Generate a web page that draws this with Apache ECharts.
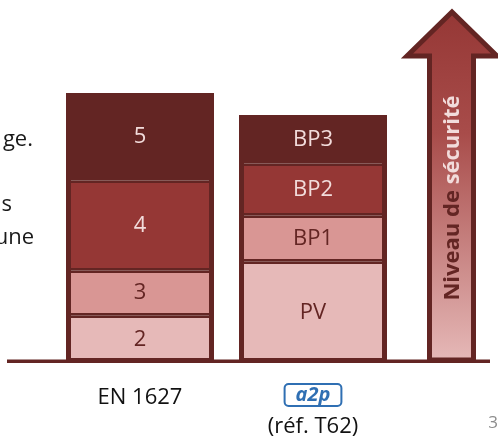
<!DOCTYPE html>
<html>
<head>
<meta charset="utf-8">
<script src="https://cdn.jsdelivr.net/npm/echarts@6/dist/echarts.min.js"></script>
<style>
  html, body { margin: 0; padding: 0; background: #fff; }
  #chart { width: 498px; height: 439px; }
</style>
</head>
<body>
<div id="chart"></div>
<script>
// two stacks: EN 1627 grades and a2p levels (heights, arbitrary units)
const categories = ['EN 1627', 'a2p']
const level1 = [9.5, 20.3]
const level2 = [9, 9.2]
const level3 = [18, 10.4]
const level4 = [17.5, 9.7]
const level1Names = ['2', 'PV']
const level2Names = ['3', 'BP1']
const level3Names = ['4', 'BP2']
const level4Names = ['5', 'BP3']

const dark = '#632523'
const light = '#f2dcdb'
const font = 'Open Sans'

const totals = categories.map((c, i) => level1[i] + level2[i] + level3[i] + level4[i])

const segment = (values, names, color, labelColor) => ({
  type: 'bar',
  stack: 'levels',
  barWidth: 148,
  barGap: '-100%',
  silent: true,
  data: values.map((v, i) => ({ value: v, name: names[i] })),
  itemStyle: { color: color, borderColor: dark, borderWidth: 2.5 },
  label: {
    show: true,
    position: 'inside',
    formatter: (p) => p.name,
    color: labelColor,
    fontFamily: font,
    fontSize: 22
  },
  emphasis: { disabled: true }
})

const chart = echarts.init(document.getElementById('chart'))

const option = {
  animation: false,
  grid: { left: 53.5, right: 98.5, top: 63, bottom: 76 },
  xAxis: {
    type: 'category',
    data: categories,
    axisLine: { show: false },
    axisTick: { show: false },
    axisLabel: {
      margin: 21,
      interval: 0,
      formatter: (val) => val === 'a2p' ? '{logo|a2p}\n{ref|(réf. T62)}' : '{en|' + val + '}',
      rich: {
        en: { fontFamily: font, fontSize: 22, color: '#111', lineHeight: 28 },
        logo: {
          fontFamily: font, fontSize: 20, fontStyle: 'italic', fontWeight: 'bold',
          color: '#2f6fb3', borderColor: '#2f6fb3', borderWidth: 2, borderRadius: 4,
          padding: [1, 11], lineHeight: 22
        },
        ref: { fontFamily: font, fontSize: 22, color: '#111', lineHeight: 42 }
      }
    }
  },
  yAxis: { type: 'value', min: 0, max: 60, show: false },
  series: [
    segment(level1, level1Names, '#e6b9b8', dark),
    segment(level2, level2Names, '#d99694', dark),
    segment(level3, level3Names, '#953735', light),
    segment(level4, level4Names, dark, light),
    {
      // outer frame of each stack
      type: 'bar',
      barWidth: 148,
      barGap: '-100%',
      silent: true,
      z: 3,
      data: totals,
      itemStyle: { color: 'rgba(0,0,0,0)', borderColor: dark, borderWidth: 5, borderRadius: [3, 3, 0, 0] },
      emphasis: { disabled: true }
    }
  ],
  graphic: [
    {
      type: 'line',
      z: 0,
      shape: { x1: 7, y1: 361.3, x2: 490, y2: 361.3 },
      style: { stroke: dark, lineWidth: 3.5 }
    },
    {
      type: 'polygon',
      z: 5,
      shape: {
        points: [[452, 12], [497, 56], [473.5, 56], [473.5, 360], [429.5, 360], [429.5, 56], [407, 56]]
      },
      style: {
        fill: new echarts.graphic.LinearGradient(0, 0, 0, 1, [
          { offset: 0, color: '#953735' },
          { offset: 0.35, color: '#a84c4a' },
          { offset: 1, color: '#e6b9b8' }
        ]),
        stroke: dark,
        lineWidth: 5,
        lineJoin: 'miter'
      }
    },
    {
      type: 'text',
      z: 6,
      x: 453,
      y: 198,
      rotation: Math.PI / 2,
      style: {
        text: '{a|Niveau de }{b|sécurité}',
        align: 'center',
        verticalAlign: 'middle',
        textAlign: 'center',
        textVerticalAlign: 'middle',
        rich: {
          a: { fontFamily: font, fontWeight: 'bold', fontSize: 22, fill: dark, color: dark },
          b: { fontFamily: font, fontWeight: 'bold', fontSize: 22, fill: light, color: light }
        }
      }
    },
    // clipped paragraph at the slide's left edge
    {
      type: 'text', x: 33, y: 140,
      style: { text: 'ge.', font: '22px "Open Sans"', fill: '#1a1a1a', align: 'right', verticalAlign: 'middle', textAlign: 'right', textVerticalAlign: 'middle' }
    },
    {
      type: 'text', x: 12, y: 205,
      style: { text: 's', font: '22px "Open Sans"', fill: '#1a1a1a', align: 'right', verticalAlign: 'middle', textAlign: 'right', textVerticalAlign: 'middle' }
    },
    {
      type: 'text', x: 34, y: 238,
      style: { text: 'une', font: '22px "Open Sans"', fill: '#1a1a1a', align: 'right', verticalAlign: 'middle', textAlign: 'right', textVerticalAlign: 'middle' }
    },
    {
      type: 'text', x: 493, y: 423,
      style: { text: '3', font: '17px "Open Sans"', fill: '#8c8c8c', align: 'center', verticalAlign: 'middle', textAlign: 'center', textVerticalAlign: 'middle' }
    }
  ]
}

chart.setOption(option)

window.addEventListener('resize', () => chart.resize())
</script>
</body>
</html>
